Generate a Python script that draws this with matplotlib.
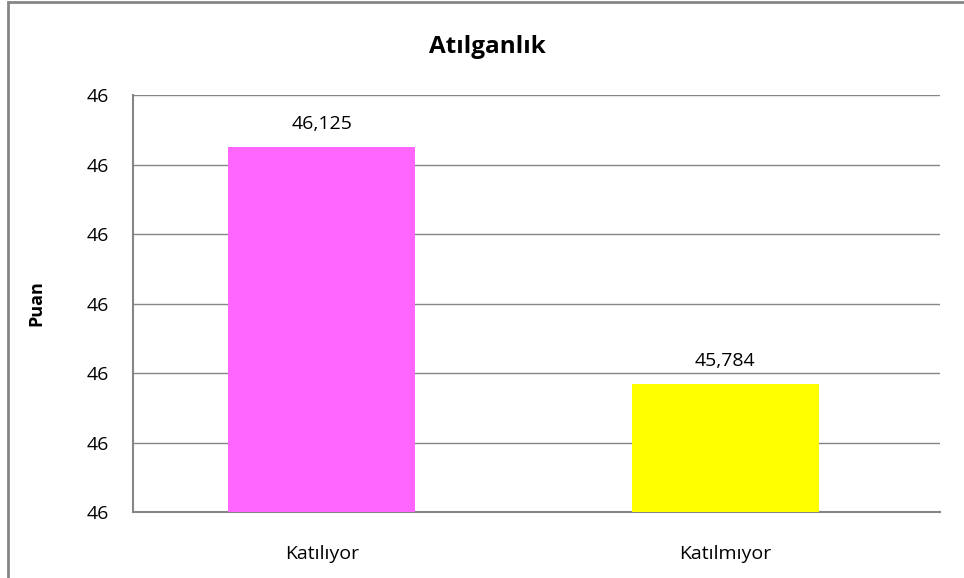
import matplotlib.pyplot as plt
from matplotlib.patches import Rectangle

categories = ["Katılıyor", "Katılmıyor"]
values = [46.125, 45.784]
value_labels = ["46,125", "45,784"]
bar_colors = ["#FF66FF", "#FFFF00"]
y_ticks = [45.6, 45.7, 45.8, 45.9, 46.0, 46.1, 46.2]
y_tick_labels = ["46"] * len(y_ticks)

plt.rcParams['font.family'] = ['Open Sans', 'DejaVu Sans']
grid_color = "#868686"

fig = plt.figure(figsize=(9.64, 5.78), dpi=100)
# outer chart border (Excel chart area)
fig.patches.append(Rectangle((8 / 964, -0.05), 1.2, (578 - 2) / 578 + 0.05,
                             transform=fig.transFigure, fill=False,
                             edgecolor=grid_color, linewidth=2))

ax = fig.add_axes([133 / 964, 66 / 578, 807 / 964, 417 / 578])
x = range(len(categories))
ax.bar(x, values, width=0.463, color=bar_colors, zorder=3)
for xi, v, lab in zip(x, values, value_labels):
    ax.text(xi, v + 0.02, lab, ha="center", va="bottom", fontsize=14, color="black")

ax.set_xlim(-0.468, 1.532)
ax.set_ylim(45.6, 46.2)
ax.set_yticks(y_ticks)
ax.set_yticklabels(y_tick_labels, fontsize=14)
ax.set_xticks(list(x))
ax.set_xticklabels(categories, fontsize=14)
ax.tick_params(axis="x", length=0, pad=24)
ax.tick_params(axis="y", length=0, pad=17)
ax.yaxis.grid(True, color=grid_color, linewidth=1, zorder=0)
ax.set_axisbelow(True)
for s in ["top", "right"]:
    ax.spines[s].set_visible(False)
for s in ["left", "bottom"]:
    ax.spines[s].set_color(grid_color)
    ax.spines[s].set_linewidth(1.5)

ax.set_ylabel("Puan", fontsize=13, fontweight="bold", labelpad=30)
fig.text(487 / 964, 1 - 47 / 578, "Atılganlık", ha="center", va="center",
         fontsize=17.5, fontweight="bold")

fig.savefig("out.png", dpi=100)
